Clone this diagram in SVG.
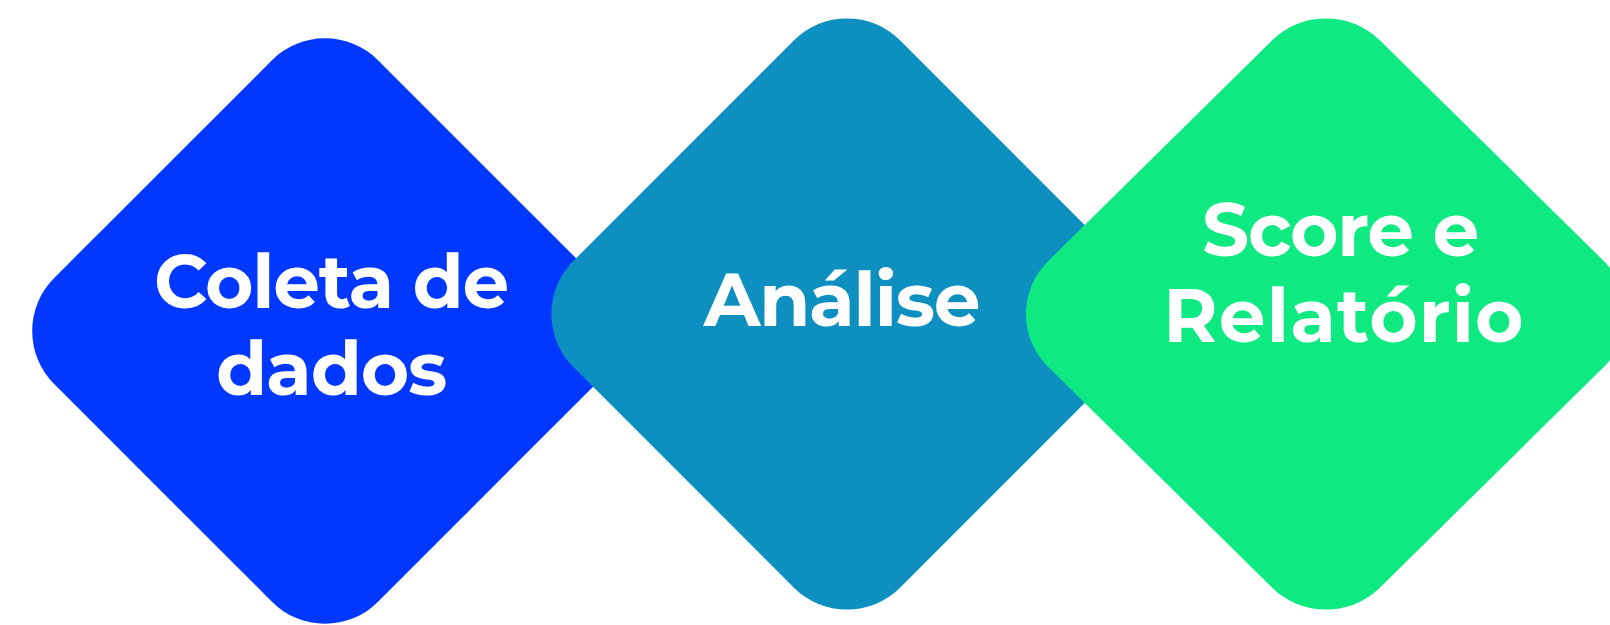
<svg xmlns="http://www.w3.org/2000/svg" width="1610" height="625" viewBox="0 0 1610 625">
  <style>
    .lbl { font-family: "Montserrat", "Inter", "Liberation Sans", sans-serif; font-weight: 700; font-size: 74px; letter-spacing: -1.2px; fill: #FFFFFF; text-anchor: middle; }
    .wide { letter-spacing: 1.2px; }
  </style>
  <rect x="0" y="0" width="1610" height="625" fill="#FFFFFF"/>
  <g id="node-coleta">
    <rect x="-229" y="-229" width="458" height="458" rx="75" fill="#0038FF" transform="translate(325 331) rotate(45)"/>
    <text class="lbl" x="331" y="308">Coleta de</text>
    <text class="lbl" x="331" y="395">dados</text>
  </g>
  <g id="node-analise">
    <rect x="-231" y="-231" width="462" height="462" rx="75" fill="#0D8FC0" transform="translate(847 314) rotate(45)"/>
    <text class="lbl" x="841.5" y="326">Análise</text>
  </g>
  <g id="node-score">
    <rect x="-231" y="-231" width="462" height="462" rx="75" fill="#0EE982" transform="translate(1326 314) scale(1.015 1) rotate(45)"/>
    <text class="lbl" x="1340" y="256">Score e</text>
    <text class="lbl wide" x="1344" y="342">Relatório</text>
  </g>
  <g id="connectors"/>
</svg>
